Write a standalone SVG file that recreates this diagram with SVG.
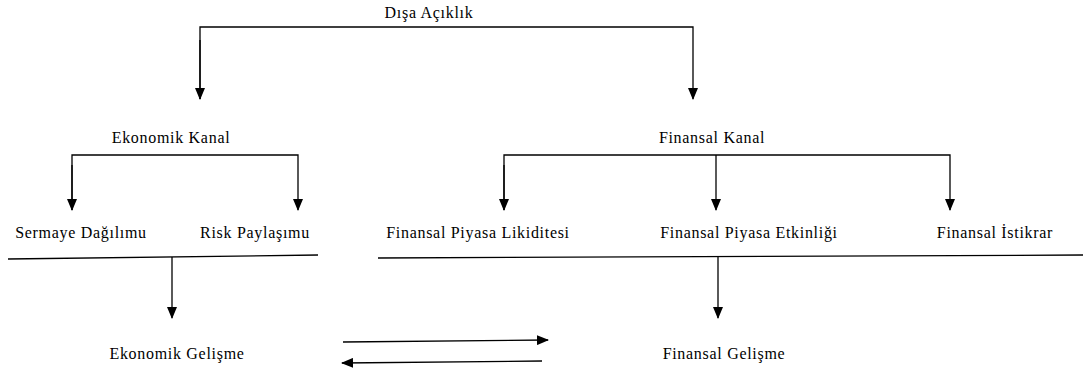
<svg xmlns="http://www.w3.org/2000/svg" width="1088" height="374" viewBox="0 0 1088 374">
<style>
text{font-family:"Liberation Serif","Times New Roman",serif;font-size:16px;letter-spacing:0.7px;fill:#000}
.c{fill:none;stroke:#000;stroke-width:1.3}
</style>
<defs>
<marker id="ah" markerWidth="12" markerHeight="10" refX="11" refY="5" orient="auto" markerUnits="userSpaceOnUse"><path d="M0,0 L12,5 L0,10 Z" fill="#000"/></marker>
</defs>
<rect width="1088" height="374" fill="#fff"/>
<g id="n-disa"><text x="429" y="18" text-anchor="middle">Dışa Açıklık</text></g>
<g id="n-ekonomik-kanal"><text x="171" y="143" text-anchor="middle">Ekonomik Kanal</text></g>
<g id="n-finansal-kanal"><text x="712" y="143" text-anchor="middle">Finansal Kanal</text></g>
<g id="n-sermaye"><text x="81" y="238" text-anchor="middle">Sermaye Dağılımu</text></g>
<g id="n-risk"><text x="255" y="238" text-anchor="middle">Risk Paylaşımu</text></g>
<g id="n-likidite"><text x="478" y="238" text-anchor="middle">Finansal Piyasa Likiditesi</text></g>
<g id="n-etkinlik"><text x="749" y="238" text-anchor="middle">Finansal Piyasa Etkinliği</text></g>
<g id="n-istikrar"><text x="995" y="238" text-anchor="middle">Finansal İstikrar</text></g>
<g id="n-ekonomik-gelisme"><text x="177" y="359" text-anchor="middle">Ekonomik Gelişme</text></g>
<g id="n-finansal-gelisme"><text x="724" y="359" text-anchor="middle">Finansal Gelişme</text></g>
<g id="connectors">
<path class="c" d="M200,99 V27 H693 V99" marker-end="url(#ah)"/>
<path class="c" d="M200,40 V99" marker-end="url(#ah)"/>
<path class="c" d="M72,210 V155 H298 V210" marker-end="url(#ah)"/>
<path class="c" d="M72,165 V210" marker-end="url(#ah)"/>
<path class="c" d="M504,210 V155 H950 V210" marker-end="url(#ah)"/>
<path class="c" d="M504,165 V210" marker-end="url(#ah)"/>
<path class="c" d="M716,155 V210" marker-end="url(#ah)"/>
<path class="c" d="M8,259 L318,255"/>
<path class="c" d="M172,257 V318" marker-end="url(#ah)"/>
<path class="c" d="M378,258 L1083,255"/>
<path class="c" d="M718,256 V318" marker-end="url(#ah)"/>
<path class="c" d="M343,342 L548,340" marker-end="url(#ah)"/>
<path class="c" d="M542,361 L342,363" marker-end="url(#ah)"/>
</g>
</svg>
